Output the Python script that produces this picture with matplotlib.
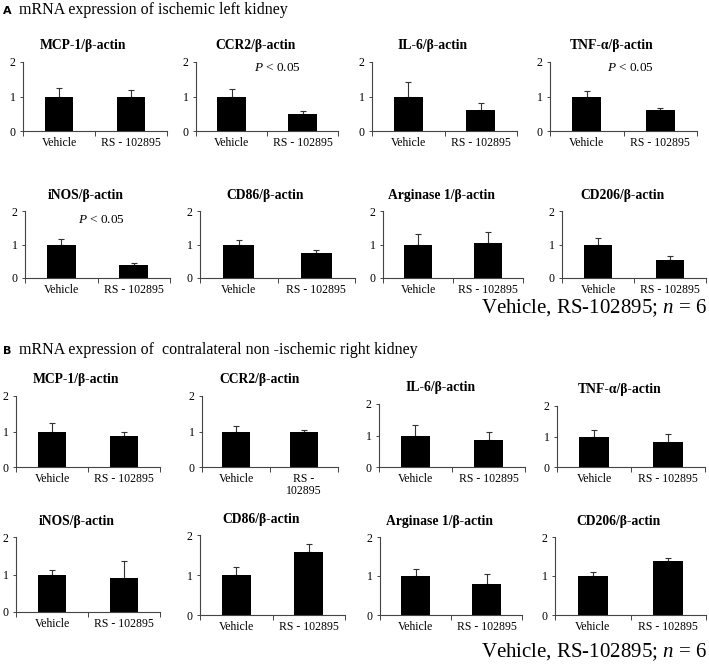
import matplotlib.pyplot as plt
import numpy as np

plt.rcParams['font.family'] = ['Liberation Serif', 'DejaVu Serif']
plt.rcParams['mathtext.fontset'] = 'custom'
plt.rcParams['mathtext.it'] = 'Liberation Serif:italic'
plt.rcParams['mathtext.rm'] = 'Liberation Serif'

groups = ['Vehicle', 'RS - 102895']
genes = ['MCP-1', 'CCR2', 'IL-6', 'TNF-α', 'iNOS', 'CD86', 'Arginase 1', 'CD206']

# A: ischemic left kidney (relative to vehicle)
left_vehicle = [1.0, 1.0, 1.0, 1.0, 1.0, 1.0, 1.0, 1.0]
left_vehicle_err = [0.25, 0.22, 0.42, 0.15, 0.15, 0.12, 0.30, 0.18]
left_rs = [0.98, 0.50, 0.60, 0.62, 0.40, 0.75, 1.05, 0.55]
left_rs_err = [0.22, 0.08, 0.20, 0.06, 0.06, 0.10, 0.32, 0.12]
left_sig = [False, True, False, True, True, False, False, False]

# B: contralateral non-ischemic right kidney
right_vehicle = [1.0, 1.0, 1.0, 1.0, 1.0, 1.0, 1.0, 1.0]
right_vehicle_err = [0.25, 0.15, 0.33, 0.22, 0.13, 0.20, 0.18, 0.09]
right_rs = [0.87, 0.98, 0.87, 0.83, 0.92, 1.57, 0.80, 1.38]
right_rs_err = [0.13, 0.07, 0.23, 0.24, 0.45, 0.21, 0.25, 0.07]

W, H = 709, 665
fig = plt.figure(figsize=(W / 100, H / 100), dpi=100)

# axes boxes in pixels: x left, x right, y of value 2, y of value 0
boxes_a = [(23, 167, 62, 131), (196, 338, 62, 131), (372, 517, 62, 131), (550, 697, 62, 131),
           (25, 170, 211, 278), (200, 355, 211, 278), (383, 523, 211, 278), (562, 706, 211, 278)]
boxes_b = [(16, 160, 396, 467), (202, 338, 396, 467), (379, 525, 404, 467), (557, 705, 406, 467),
           (16, 160, 537, 612), (200, 345, 535, 615), (380, 522, 537, 615), (555, 706, 537, 615)]
# where the "P < 0.05" note sits, in axes fraction
sig_pos = {1: (0.57, 0.91), 3: (0.55, 0.91), 4: (0.53, 0.86)}


def draw_panel(box, gene, vals, errs, labels, sig_xy=None):
    x0, x1, y2, y0 = box
    ax = fig.add_axes([x0 / W, 1 - y0 / H, (x1 - x0) / W, (y0 - y2) / H])
    x = np.arange(len(vals))
    ax.bar(x, vals, width=0.4, color='black', zorder=2)
    # upper error bars only, like the original spreadsheet chart
    ax.errorbar(x, vals, yerr=[np.zeros(len(errs)), errs], fmt='none',
                ecolor='#333333', elinewidth=0.8, capsize=2, capthick=0.8, zorder=1)
    ax.set_xlim(-0.5, 1.5)
    ax.set_ylim(0, 2)
    ax.set_yticks([0, 1, 2])
    ax.set_yticklabels(['0', '1', '2'], fontsize=8.5)
    # tick marks on category boundaries, labels in between
    ax.set_xticks([-0.5, 0.5, 1.5])
    ax.set_xticklabels([])
    ax.set_xticks(x, minor=True)
    ax.set_xticklabels(labels, minor=True, fontsize=8.5, linespacing=1.1)
    ax.tick_params(axis='x', which='minor', length=0, pad=4)
    ax.tick_params(axis='x', which='major', length=3.5, width=0.7, color='#444444', direction='out')
    ax.tick_params(axis='y', length=2.5, width=0.7, color='#444444', pad=3)
    for s in ['top', 'right']:
        ax.spines[s].set_visible(False)
    for s in ['left', 'bottom']:
        ax.spines[s].set_linewidth(0.8)
        ax.spines[s].set_color('#444444')
    ax.set_title(gene + '/β-actin', fontweight='bold', fontsize=9.8, x=0.42, pad=9)
    if sig_xy is not None:
        ax.text(sig_xy[0], sig_xy[1], '$P$ < 0.05', transform=ax.transAxes,
                ha='center', va='center', fontsize=9.5)
    return ax


for i, g in enumerate(genes):
    sig = sig_pos[i] if left_sig[i] else None
    draw_panel(boxes_a[i], g, [left_vehicle[i], left_rs[i]],
               [left_vehicle_err[i], left_rs_err[i]], groups, sig)
    labels_b = ['Vehicle', 'RS -\n102895'] if g == 'CCR2' else groups
    draw_panel(boxes_b[i], g, [right_vehicle[i], right_rs[i]],
               [right_vehicle_err[i], right_rs_err[i]], labels_b)

fig.text(3 / W, 1 - 11 / H, 'A', fontsize=8, fontweight='bold', family='DejaVu Sans', va='center')
fig.text(19 / W, 1 - 10 / H, 'mRNA expression of ischemic left kidney', fontsize=11.5, va='center')
fig.text(3 / W, 1 - 351 / H, 'B', fontsize=8, fontweight='bold', family='DejaVu Sans', va='center')
fig.text(19 / W, 1 - 350 / H, 'mRNA expression of  contralateral non -ischemic right kidney',
         fontsize=11.5, va='center')
fig.text(707 / W, 1 - 308 / H, 'Vehicle, RS-102895; $n$ = 6', fontsize=15, ha='right', va='center')
fig.text(707 / W, 1 - 652 / H, 'Vehicle, RS-102895; $n$ = 6', fontsize=15, ha='right', va='center')

fig.savefig('out.png', dpi=100)
